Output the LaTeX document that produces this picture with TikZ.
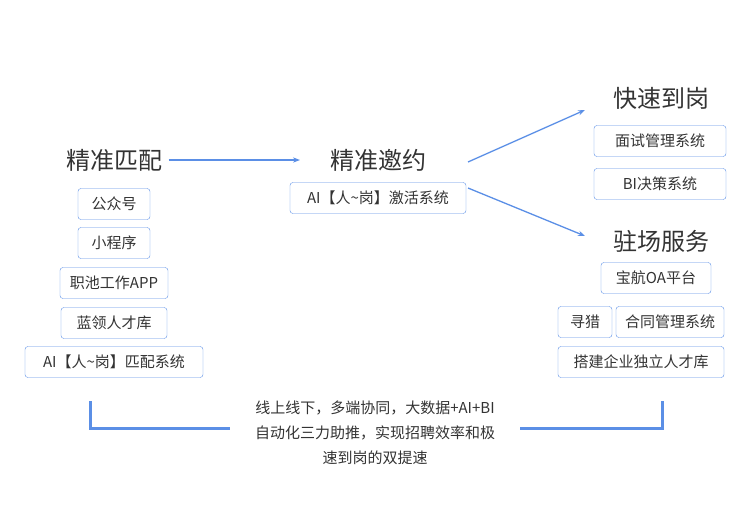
\documentclass[tikz,border=0pt]{standalone}
\usepackage{fontspec}
\setmainfont{Noto Sans CJK SC}
\usetikzlibrary{arrows.meta,positioning}
\definecolor{lineblue}{HTML}{5B8FE6}
\definecolor{txtgray}{HTML}{333333}
\begin{document}
\begin{tikzpicture}[x=1pt,y=-1pt,
	% title and box styles
	title/.style={font=\fontsize{24}{26}\selectfont,text=txtgray},
	item/.style={draw=lineblue,rounded corners=3pt,minimum height=31pt,font=\fontsize{15}{17}\selectfont,text=txtgray,inner xsep=3pt},
	link/.style={lineblue,line width=1.3pt,-{Stealth[length=7pt]}},
	bracket/.style={lineblue,line width=3pt}
	]
	\useasboundingbox (0,0) rectangle (750,512);
	%% left column
	\node (match) [title] at (114,160) {精准匹配};
	\node (b1) [item,minimum width=72pt] at (114,204) {公众号};
	\node (b2) [item,minimum width=72pt] at (114,243) {小程序};
	\node (b3) [item,minimum width=108pt] at (114,283) {职池工作APP};
	\node (b4) [item,minimum width=106pt] at (114,323) {蓝领人才库};
	\node (b5) [item,minimum width=178pt] at (114,362) {AI【人\textasciitilde 岗】匹配系统};
	%% middle column
	\node (invite) [title] at (378,160) {精准邀约};
	\node (c1) [item,minimum width=176pt] at (378,198) {AI【人\textasciitilde 岗】激活系统};
	%% right column
	\node (fast) [title] at (661,98) {快速到岗};
	\node (d1) [item,minimum width=132pt] at (660,141) {面试管理系统};
	\node (d2) [item,minimum width=132pt] at (660,184) {BI决策系统};
	\node (onsite) [title] at (661,241) {驻场服务};
	\node (e1) [item,minimum width=110pt] at (656,278) {宝航OA平台};
	\node (e2) [item,minimum width=54pt] at (585,322) {寻猎};
	\node (e3) [item,minimum width=108pt] at (670,322) {合同管理系统};
	\node (e4) [item,minimum width=166pt] at (641,362) {搭建企业独立人才库};
	%% connectors
	\coordinate (m1) at (468,162);
	\coordinate (m2) at (468,188);
	\draw [link] (match.east) ++(3,0) coordinate (s0) -- (300,160) coordinate (t0);
	\draw [link] (m1) -- (585,110) coordinate (t1);
	\draw [link] (m2) -- (585,236) coordinate (t2);
	%% bottom summary
	\node (sum) [font=\fontsize{15}{25}\selectfont,text=txtgray,align=center] at (375,433)
		{线上线下，多端协同，大数据+AI+BI\\自动化三力助推，实现招聘效率和极\\速到岗的双提速};
	\coordinate (p1) at (90,401);
	\coordinate (p2) at (662,401);
	\draw [bracket] (p1) |- (230,428);
	\draw [bracket] (p2) |- (520,428);
\end{tikzpicture}
\end{document}
